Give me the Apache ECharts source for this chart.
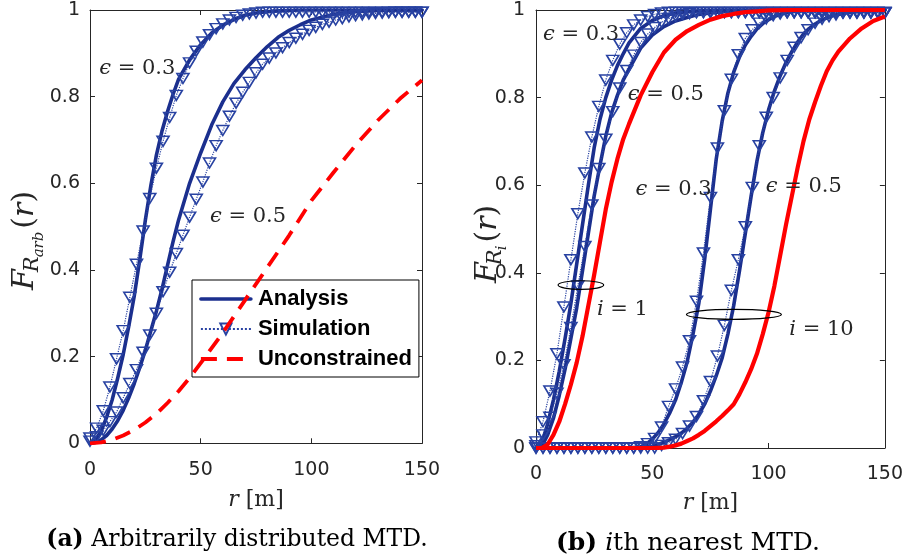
<!DOCTYPE html>
<html>
<head>
<meta charset="utf-8">
<script src="https://cdn.jsdelivr.net/npm/echarts@6/dist/echarts.min.js"></script>
<style>
  html, body { margin: 0; padding: 0; background: #ffffff; }
  #chart { width: 906px; height: 560px; }
</style>
</head>
<body>
<div id="chart"></div>
<script>
// ---------- sampling grids (r in metres) ----------
const rFine = [0, 2.5, 5, 7.5, 10, 12.5, 15, 17.5, 20, 22.5, 25, 27.5, 30, 32.5, 35, 37.5, 40,
  45, 50, 55, 60, 65, 70, 75, 80, 85, 90, 95, 100, 110, 120, 130, 140, 150];
const rTenth = [0, 10, 20, 30, 40, 45, 47.5, 50, 52.5, 55, 57.5, 60, 62.5, 65, 67.5, 70, 72.5, 75,
  77.5, 80, 82.5, 85, 87.5, 90, 92.5, 95, 97.5, 100, 102.5, 105, 107.5, 110, 112.5, 115, 117.5,
  120, 122.5, 125, 127.5, 130, 135, 140, 145, 150];
const rUnc = [0, 5, 10, 15, 20, 25, 30, 35, 40, 45, 50, 60, 70, 80, 90, 100, 110, 120, 130, 140, 150];
const rSim = [0, 3, 6, 9, 12, 15, 18, 21, 24, 27, 30, 33, 36, 39, 42, 45, 48, 51, 54, 57, 60, 63, 66,
  69, 72, 75, 78, 81, 84, 87, 90, 93, 96, 99, 102, 105, 108, 111, 114, 117, 120, 123, 126, 129,
  132, 135, 138, 141, 144, 147, 150];

// ---------- tick values ----------
const rTicks = [0, 50, 100, 150];
const cdfTicks = [0, 0.2, 0.4, 0.6, 0.8, 1];

// ---------- (a) arbitrarily distributed MTD ----------
const arbAnalysis03 = [0, 0.008, 0.028, 0.06, 0.1, 0.15, 0.205, 0.27, 0.34, 0.425, 0.515, 0.595, 0.665,
  0.72, 0.765, 0.805, 0.84, 0.885, 0.92, 0.947, 0.965, 0.978, 0.988, 0.993, 0.996, 0.998, 0.999,
  1, 1, 1, 1, 1, 1, 1];
const arbAnalysis05 = [0, 0.002, 0.008, 0.018, 0.033, 0.052, 0.076, 0.105, 0.138, 0.175, 0.215, 0.26,
  0.305, 0.355, 0.41, 0.465, 0.515, 0.6, 0.67, 0.735, 0.788, 0.83, 0.862, 0.89, 0.915, 0.937,
  0.953, 0.966, 0.977, 0.99, 0.996, 0.999, 1, 1];
const arbSim03 = [0.012, 0.035, 0.075, 0.13, 0.195, 0.26, 0.337, 0.413, 0.49, 0.565, 0.635, 0.697,
  0.752, 0.803, 0.842, 0.878, 0.905, 0.926, 0.943, 0.957, 0.968, 0.977, 0.983, 0.988, 0.991,
  0.993, 0.995, 0.995, 0.995, 0.995, 0.995, 0.995, 0.995, 0.995, 0.995, 0.995, 0.995, 0.995,
  0.995, 0.995, 0.995, 0.995, 0.995, 0.995, 0.995, 0.995, 0.995, 0.995, 0.995, 0.995, 0.995];
const arbSim05 = [0.005, 0.015, 0.03, 0.05, 0.072, 0.105, 0.138, 0.17, 0.21, 0.25, 0.3, 0.35, 0.395,
  0.438, 0.48, 0.522, 0.563, 0.603, 0.647, 0.687, 0.722, 0.755, 0.785, 0.81, 0.833, 0.855, 0.875,
  0.889, 0.901, 0.913, 0.925, 0.935, 0.944, 0.953, 0.96, 0.967, 0.972, 0.977, 0.98, 0.984, 0.987,
  0.989, 0.991, 0.992, 0.993, 0.994, 0.995, 0.995, 0.995, 0.995, 0.995];
const arbUnconstrained = [0, 0.002, 0.008, 0.018, 0.031, 0.048, 0.068, 0.093, 0.12, 0.151, 0.185,
  0.255, 0.33, 0.405, 0.48, 0.56, 0.625, 0.688, 0.745, 0.795, 0.838];

// ---------- (b) i-th nearest MTD ----------
const nearAnalysis03 = [0, 0.012, 0.055, 0.11, 0.175, 0.25, 0.33, 0.42, 0.51, 0.6, 0.685, 0.75, 0.8,
  0.84, 0.873, 0.9, 0.925, 0.958, 0.976, 0.987, 0.993, 0.996, 0.998, 0.999, 1, 1, 1, 1, 1,
  1, 1, 1, 1, 1];
const nearAnalysis05 = [0, 0.004, 0.03, 0.068, 0.12, 0.18, 0.25, 0.32, 0.405, 0.49, 0.575, 0.645,
  0.712, 0.765, 0.805, 0.84, 0.865, 0.913, 0.943, 0.962, 0.975, 0.983, 0.99, 0.993, 0.996, 0.998,
  0.999, 1, 1, 1, 1, 1, 1, 1];
const nearUnconstrained = [0, 0, 0.008, 0.03, 0.06, 0.1, 0.145, 0.195, 0.255, 0.325, 0.395, 0.47,
  0.545, 0.607, 0.66, 0.705, 0.74, 0.805, 0.858, 0.903, 0.932, 0.952, 0.966, 0.978, 0.986, 0.991,
  0.995, 0.997, 0.999, 1, 1, 1, 1, 1];
const nearSim03 = [0.014, 0.06, 0.13, 0.215, 0.322, 0.43, 0.535, 0.628, 0.71, 0.78, 0.84, 0.885,
  0.922, 0.948, 0.966, 0.977, 0.985, 0.99, 0.993, 0.995, 0.995, 0.995, 0.995, 0.995, 0.995,
  0.995, 0.995, 0.995, 0.995, 0.995, 0.995, 0.995, 0.995, 0.995, 0.995, 0.995, 0.995, 0.995,
  0.995, 0.995, 0.995, 0.995, 0.995, 0.995, 0.995, 0.995, 0.995, 0.995, 0.995, 0.995, 0.995];
const nearSim05 = [0.005, 0.03, 0.07, 0.125, 0.19, 0.275, 0.37, 0.46, 0.555, 0.638, 0.705, 0.768,
  0.822, 0.862, 0.897, 0.926, 0.945, 0.96, 0.972, 0.98, 0.986, 0.99, 0.992, 0.994, 0.994, 0.994,
  0.994, 0.994, 0.994, 0.994, 0.994, 0.994, 0.994, 0.994, 0.994, 0.994, 0.994, 0.994, 0.994,
  0.994, 0.994, 0.994, 0.994, 0.994, 0.994, 0.994, 0.994, 0.994, 0.994, 0.994, 0.994];
const tenthAnalysis03 = [0, 0, 0, 0, 0, 0.003, 0.009, 0.02, 0.035, 0.055, 0.08, 0.11, 0.15, 0.197,
  0.26, 0.33, 0.43, 0.545, 0.66, 0.745, 0.81, 0.858, 0.893, 0.92, 0.94, 0.957, 0.969, 0.978,
  0.985, 0.99, 0.993, 0.996, 0.998, 0.999, 1, 1, 1, 1, 1, 1, 1, 1, 1, 1];
const tenthAnalysis05 = [0, 0, 0, 0, 0, 0, 0.002, 0.004, 0.008, 0.013, 0.019, 0.026, 0.034, 0.045,
  0.059, 0.077, 0.1, 0.13, 0.165, 0.205, 0.26, 0.325, 0.405, 0.49, 0.575, 0.655, 0.72, 0.772,
  0.815, 0.85, 0.88, 0.905, 0.927, 0.945, 0.958, 0.968, 0.976, 0.982, 0.987, 0.99, 0.995, 0.998,
  0.999, 1];
const tenthUnconstrained = [0, 0, 0, 0, 0, 0, 0, 0, 0.0005, 0.001, 0.003, 0.006, 0.01, 0.016, 0.022,
  0.03, 0.039, 0.05, 0.061, 0.073, 0.086, 0.1, 0.123, 0.15, 0.18, 0.215, 0.26, 0.31, 0.37, 0.44,
  0.51, 0.575, 0.64, 0.7, 0.75, 0.79, 0.827, 0.86, 0.885, 0.905, 0.935, 0.958, 0.975, 0.985];
const tenthSim03 = [0, 0, 0, 0, 0, 0, 0, 0, 0, 0, 0, 0, 0, 0, 0, 0.003, 0.01, 0.022, 0.048, 0.095,
  0.135, 0.185, 0.245, 0.335, 0.445, 0.572, 0.685, 0.77, 0.842, 0.898, 0.935, 0.955, 0.97, 0.98,
  0.987, 0.991, 0.994, 0.994, 0.994, 0.994, 0.994, 0.994, 0.994, 0.994, 0.994, 0.994, 0.994,
  0.994, 0.994, 0.994, 0.994];
const tenthSim05 = [0, 0, 0, 0, 0, 0, 0, 0, 0, 0, 0, 0, 0, 0, 0, 0, 0, 0, 0.006, 0.012, 0.02, 0.033,
  0.05, 0.072, 0.108, 0.152, 0.21, 0.28, 0.36, 0.43, 0.505, 0.595, 0.69, 0.755, 0.8, 0.845, 0.885,
  0.915, 0.937, 0.955, 0.97, 0.979, 0.985, 0.989, 0.993, 0.993, 0.993, 0.993, 0.993, 0.993, 0.993];

// ---------- styling ----------
const BLUE = '#1b2f8e';
const SIM_BLUE = '#2842a2';
const RED = '#ff0000';
const AXIS = '#262626';
const SERIF = '"DejaVu Serif", serif';

const pairs = (xs, ys) => xs.map((x, i) => [x, ys[i]]);

function analysisLine(xs, ys, ax) {
  return {
    type: 'line', name: 'Analysis', xAxisIndex: ax, yAxisIndex: ax,
    data: pairs(xs, ys), symbol: 'none',
    lineStyle: { color: BLUE, width: 3.6, join: 'round', cap: 'round' },
    itemStyle: { color: BLUE }, z: 3
  };
}
function simulationLine(xs, ys, ax) {
  return {
    type: 'line', name: 'Simulation', xAxisIndex: ax, yAxisIndex: ax,
    data: pairs(xs, ys), symbol: 'triangle', symbolRotate: 180, symbolSize: [12, 10],
    showSymbol: true, showAllSymbol: true,
    lineStyle: { color: SIM_BLUE, width: 1.2, type: 'dotted' },
    itemStyle: { color: 'rgba(255,255,255,0)', borderColor: SIM_BLUE, borderWidth: 1.6 }, z: 4
  };
}
function unconstrainedLine(xs, ys, ax, dashed) {
  return {
    type: 'line', name: 'Unconstrained', xAxisIndex: ax, yAxisIndex: ax,
    data: pairs(xs, ys), symbol: 'none',
    lineStyle: { color: RED, width: dashed ? 3.8 : 4.2, type: dashed ? [16, 10] : 'solid', join: 'round' },
    itemStyle: { color: RED }, z: 5
  };
}

const tickFont = { color: AXIS, fontSize: 19, fontFamily: '"DejaVu Sans", sans-serif' };
const rName = {
  color: AXIS, fontSize: 22, fontFamily: SERIF,
  rich: { i: { fontStyle: 'italic', fontSize: 22, fontFamily: SERIF, color: AXIS } }
};

function xAxisDef(grid, pos, withLabels, gap) {
  return {
    type: 'value', gridIndex: grid, position: pos, min: 0, max: 150, interval: 50,
    axisLine: { show: true, onZero: false, lineStyle: { color: AXIS, width: 1 } },
    axisTick: { show: true, inside: true, length: 5, lineStyle: { color: AXIS } },
    axisLabel: Object.assign({ show: withLabels, margin: 17 }, tickFont),
    splitLine: { show: false },
    name: withLabels ? '{i|r} [m]' : '', nameLocation: 'middle', nameGap: gap,
    nameTextStyle: rName
  };
}
function yAxisDef(grid, pos, withLabels, margin) {
  return {
    type: 'value', gridIndex: grid, position: pos, min: 0, max: 1, interval: 0.2,
    axisLine: { show: true, onZero: false, lineStyle: { color: AXIS, width: 1 } },
    axisTick: { show: true, inside: true, length: 5, lineStyle: { color: AXIS } },
    axisLabel: Object.assign({ show: withLabels, margin: margin }, tickFont),
    splitLine: { show: false }
  };
}

const chart = echarts.init(document.getElementById('chart'), null, { renderer: 'canvas' });

chart.setOption({
  backgroundColor: '#ffffff',
  animation: false,
  grid: [
    { left: 90, top: 10, width: 332, height: 433.3 },
    { left: 536, top: 10, width: 349.5, height: 438 }
  ],
  xAxis: [
    xAxisDef(0, 'bottom', true, 46), xAxisDef(0, 'top', false, 0),
    xAxisDef(1, 'bottom', true, 44), xAxisDef(1, 'top', false, 0)
  ],
  yAxis: [
    yAxisDef(0, 'left', true, 10), yAxisDef(0, 'right', false, 0),
    yAxisDef(1, 'left', true, 11), yAxisDef(1, 'right', false, 0)
  ],
  legend: {
    data: [
      { name: 'Analysis', itemStyle: { opacity: 0 }, lineStyle: { width: 3.6 } },
      { name: 'Simulation' },
      { name: 'Unconstrained', itemStyle: { opacity: 0 }, lineStyle: { width: 3.8 } }
    ],
    orient: 'vertical', left: 192, top: 280,
    itemWidth: 50, itemHeight: 14, itemGap: 8,
    padding: [8, 7, 7, 7],
    backgroundColor: '#ffffff', borderColor: '#000000', borderWidth: 1, borderRadius: 0,
    selectedMode: false,
    textStyle: { color: '#000', fontSize: 22, fontWeight: 'bold', lineHeight: 22,
      fontFamily: '"Liberation Sans", Arial, sans-serif', padding: [0, 0, 0, 2] }
  },
  series: [
    analysisLine(rFine, arbAnalysis03, 0),
    analysisLine(rFine, arbAnalysis05, 0),
    simulationLine(rSim, arbSim03, 0),
    simulationLine(rSim, arbSim05, 0),
    unconstrainedLine(rUnc, arbUnconstrained, 0, true),

    analysisLine(rFine, nearAnalysis03, 2),
    analysisLine(rFine, nearAnalysis05, 2),
    analysisLine(rTenth, tenthAnalysis03, 2),
    analysisLine(rTenth, tenthAnalysis05, 2),
    simulationLine(rSim, nearSim03, 2),
    simulationLine(rSim, nearSim05, 2),
    simulationLine(rSim, tenthSim03, 2),
    simulationLine(rSim, tenthSim05, 2),
    unconstrainedLine(rFine, nearUnconstrained, 2, false),
    unconstrainedLine(rTenth, tenthUnconstrained, 2, false)
  ]
});

// ---------- annotations ----------
const mctx = document.createElement('canvas').getContext('2d');
function textWidth(t, size, italic) {
  mctx.font = (italic ? 'italic ' : '') + size + 'px ' + SERIF;
  return mctx.measureText(t).width;
}
const px = (grid, r, v) => chart.convertToPixel({ gridIndex: grid }, [r, v]);

function mathText(pt, text, size, align) {
  return {
    type: 'text', x: pt[0], y: pt[1], silent: true, z: 20,
    style: {
      text: text, fontFamily: SERIF, fontSize: size, fill: AXIS,
      align: align || 'left', verticalAlign: 'middle',
      rich: { i: { fontStyle: 'italic', fontFamily: SERIF, fontSize: size, fill: AXIS } }
    }
  };
}

// rotated F_{R_x}(r) label, reading bottom-to-top
function cdfLabel(cx, startY, inner) {
  const S = 30;
  const tokens = [
    { t: 'F', s: S, it: true, dy: 0, kern: -3 },
    { t: 'R', s: 21, it: true, dy: 8, kern: -1 },
    { t: inner, s: 15, it: true, dy: 14, kern: 3 },
    { t: '(', s: S, it: false, dy: 0, kern: 0 },
    { t: 'r', s: S, it: true, dy: 0, kern: 0 },
    { t: ')', s: S, it: false, dy: 0, kern: 0 }
  ];
  let x = 0;
  const children = tokens.map(k => {
    const el = {
      type: 'text', x: x, y: k.dy,
      style: { text: k.t, fontFamily: SERIF, fontSize: k.s, fontStyle: k.it ? 'italic' : 'normal',
        fill: AXIS, align: 'left', verticalAlign: 'middle' }
    };
    x += textWidth(k.t, k.s, k.it) + k.kern;
    return el;
  });
  return { type: 'group', x: cx, y: startY, rotation: Math.PI / 2, silent: true, children };
}

function ring(pt, rx, ry) {
  return {
    type: 'ellipse', silent: true, z: 20,
    shape: { cx: pt[0], cy: pt[1], rx: rx, ry: ry },
    style: { fill: 'none', stroke: '#000', lineWidth: 1.2 }
  };
}

const caption = (x, y, text, size) => ({
  type: 'text', x: x, y: y, silent: true,
  style: {
    text: text, fontFamily: SERIF, fontSize: size, fill: '#000', align: 'center', verticalAlign: 'middle',
    rich: {
      b: { fontWeight: 'bold', fontFamily: SERIF, fontSize: size, fill: '#000' },
      i: { fontStyle: 'italic', fontFamily: SERIF, fontSize: size, fill: '#000' }
    }
  }
});

chart.setOption({
  graphic: [
    mathText(px(0, 4.2, 0.864), '{i|ϵ} = 0.3', 21),
    mathText(px(0, 54.2, 0.523), '{i|ϵ} = 0.5', 21),
    mathText(px(1, 3, 0.943), '{i|ϵ} = 0.3', 21),
    mathText(px(1, 39.5, 0.808), '{i|ϵ} = 0.5', 21),
    mathText(px(1, 42.8, 0.591), '{i|ϵ} = 0.3', 21),
    mathText(px(1, 98.8, 0.597), '{i|ϵ} = 0.5', 21),
    mathText(px(1, 26.2, 0.317), '{i|i} = 1', 21),
    mathText(px(1, 108.9, 0.271), '{i|i} = 10', 21),
    ring(px(1, 19.3, 0.372), 22.8, 4.3),
    ring(px(1, 85.1, 0.305), 47.5, 5),
    cdfLabel(25, 290, 'arb'),
    cdfLabel(488, 283, 'i'),
    caption(237, 540, '{b|(a)} Arbitrarily distributed MTD.', 23.5),
    caption(688, 543, '{b|(b)} {i|i}th nearest MTD.', 25)
  ]
});
</script>
</body>
</html>
